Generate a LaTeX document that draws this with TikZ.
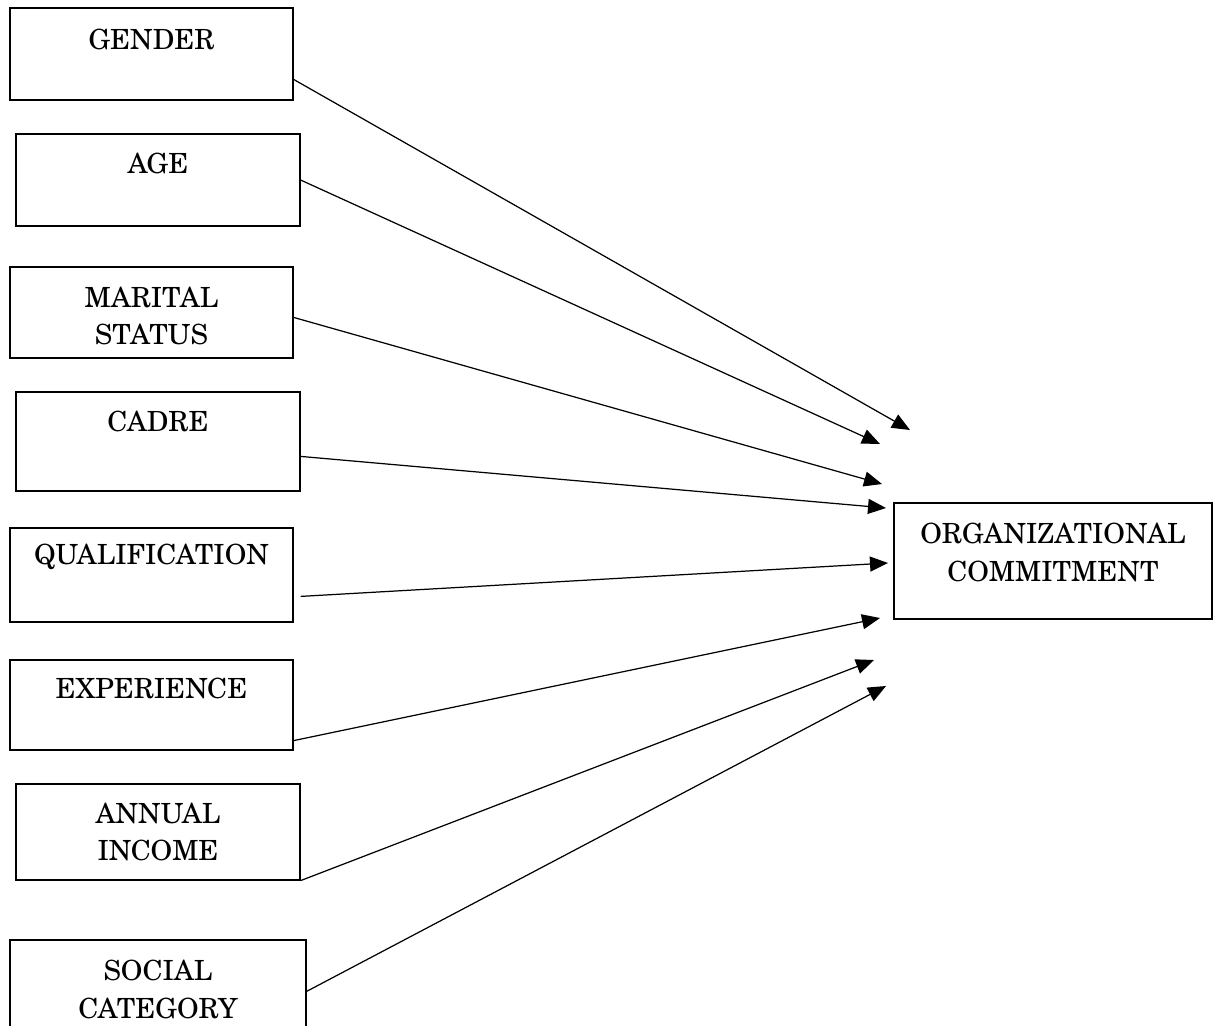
\documentclass[tikz,border=0pt]{standalone}
\usepackage{fontspec}
\setmainfont{TeX Gyre Schola}
\usetikzlibrary{arrows.meta,positioning,calc}

\begin{document}
\begin{tikzpicture}[
      x=0.02cm,y=-0.02cm,
      box/.style={draw, line width=0.7pt, minimum width=5.66cm, minimum height=1.84cm, inner sep=0pt},
      lbl/.style={font=\fontsize{15.8}{21.6}\selectfont, align=center, inner sep=0pt},
      link/.style={line width=0.7pt, -{Triangle[length=0.36cm,width=0.3cm]}}
    ]
      \useasboundingbox (0,0) rectangle (1213,1025);
      % predictor boxes
      \node[box] (gender) at (151.5,54) {};
      \node[box, minimum width=5.68cm] (age) at (158,180) {};
      \node[box, minimum height=1.82cm] (marital) at (151.5,312.5) {};
      \node[box, minimum width=5.68cm, minimum height=1.98cm] (cadre) at (158,441.5) {};
      \node[box, minimum height=1.88cm] (qual) at (151.5,575) {};
      \node[box, minimum height=1.8cm] (exp) at (151.5,705) {};
      \node[box, minimum width=5.68cm, minimum height=1.92cm] (annual) at (158,832) {};
      \node[box, minimum width=5.92cm, minimum height=2cm] (social) at (158,990) {};
      \node[box, minimum width=6.36cm, minimum height=2.32cm] (org) at (1053,561) {};
      % labels
      \node[lbl] (genderlbl) at (151.5,39) {GENDER};
      \node[lbl] (agelbl) at (158,163) {AGE};
      \node[lbl] (maritallbl) at (151.5,316) {MARITAL\\STATUS};
      \node[lbl] (cadrelbl) at (158,421) {CADRE};
      \node[lbl] (quallbl) at (151.5,557) {QUALIFICATION};
      \node[lbl] (explbl) at (151.5,688) {EXPERIENCE};
      \node[lbl] (annuallbl) at (158,832) {ANNUAL\\INCOME};
      \node[lbl] (sociallbl) at (158,989) {SOCIAL\\CATEGORY};
      \node[lbl] (orglbl) at (1053,552) {ORGANIZATIONAL\\COMMITMENT};
      % arrow tips
      \coordinate (t1) at (910,430);
      \coordinate (t2) at (880,444);
      \coordinate (t3) at (882,484);
      \coordinate (t4) at (886,508);
      \coordinate (t5) at (888,563);
      \coordinate (t6) at (880,618);
      \coordinate (t7) at (874,660);
      \coordinate (t8) at (886,686);
      % links
      \draw[link] ($(gender.north east)+(0,72)$) -- (t1);
      \draw[link] (age.east) -- (t2);
      \draw[link] ($(marital.north east)+(0,51)$) -- (t3);
      \draw[link] ($(cadre.north east)+(0,65)$) -- (t4);
      \draw[link] ($(qual.north east)+(7,69)$) -- (t5);
      \draw[link] ($(exp.south east)+(0,-10)$) -- (t6);
      \draw[link] (annual.south east) -- (t7);
      \draw[link] ($(social.north east)+(0,52)$) -- (t8);
    \end{tikzpicture}
\end{document}
